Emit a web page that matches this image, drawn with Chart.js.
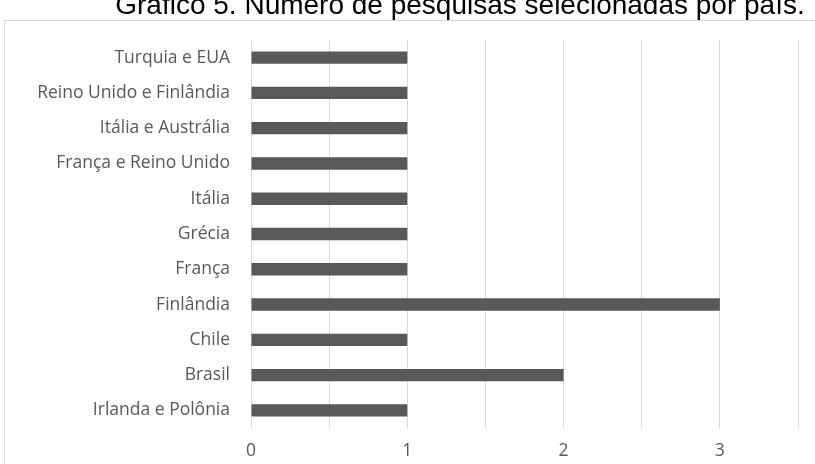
<!DOCTYPE html>
<html>
<head>
<meta charset="utf-8">
<script src="https://cdn.jsdelivr.net/npm/chart.js@4/dist/chart.umd.min.js"></script>
<style>
  html, body { margin: 0; padding: 0; background: #fff; overflow: hidden; }
  #wrap { width: 815px; height: 464px; }
</style>
</head>
<body>
<div id="wrap"><canvas id="barChart" width="815" height="464"></canvas></div>
<script>
'use strict';

// countries, top to bottom
var paises = [
    'Turquia e EUA',
    'Reino Unido e Finlândia',
    'Itália e Austrália',
    'França e Reino Unido',
    'Itália',
    'Grécia',
    'França',
    'Finlândia',
    'Chile',
    'Brasil',
    'Irlanda e Polônia'
];
var pesquisas = [1, 1, 1, 1, 1, 1, 1, 3, 1, 2, 1];
var xTicks = [0, 1, 2, 3];
var xMax = 3.5;

var tituloTexto = 'Gráfico 5. Número de pesquisas selecionadas por país.';

// white page, light frame and the title above it
var moldura = {
    id: 'moldura',
    beforeDraw: function (chart) {
        var ctx = chart.ctx;
        ctx.save();
        ctx.fillStyle = '#ffffff';
        ctx.fillRect(0, 0, chart.width, chart.height);
        ctx.strokeStyle = '#d9d9d9';
        ctx.lineWidth = 1;
        ctx.strokeRect(4.5, 20.5, 900, 600);
        ctx.fillStyle = '#000000';
        ctx.font = '28px "Liberation Sans", Arial, sans-serif';
        ctx.textAlign = 'center';
        ctx.textBaseline = 'alphabetic';
        ctx.fillText(tituloTexto, 460, 14);
        ctx.restore();
    }
};

var barChartCanvas = document.getElementById('barChart').getContext('2d');

new Chart(barChartCanvas, {
    type: 'bar',
    data: {
        labels: paises,
        datasets: [
            {
                data: pesquisas,
                backgroundColor: '#595959',
                borderWidth: 0,
                barPercentage: 0.35,
                categoryPercentage: 1
            }
        ]
    },
    options: {
        indexAxis: 'y',
        responsive: false,
        animation: false,
        devicePixelRatio: 1,
        layout: {
            padding: { top: 40, right: 17, bottom: 0, left: 0 }
        },
        plugins: {
            legend: { display: false },
            tooltip: { enabled: false }
        },
        scales: {
            x: {
                min: 0,
                max: xMax,
                afterFit: function (scale) { scale.height = 36; },
                afterBuildTicks: function (scale) {
                    var t = [];
                    for (var v = 0; v <= xMax; v += 0.5) t.push({ value: v });
                    scale.ticks = t;
                },
                ticks: {
                    autoSkip: false,
                    maxRotation: 0,
                    padding: 13,
                    color: '#595959',
                    font: { family: '"Open Sans", sans-serif', size: 17.5 },
                    callback: function (value) {
                        return xTicks.indexOf(value) >= 0 ? String(value) : '';
                    }
                },
                grid: {
                    color: '#d9d9d9',
                    lineWidth: 1,
                    drawTicks: false
                },
                border: { display: false }
            },
            y: {
                afterFit: function (scale) { scale.width = 251; },
                ticks: {
                    padding: 21,
                    color: '#595959',
                    font: { family: '"Open Sans", sans-serif', size: 17.5 }
                },
                grid: { display: false, drawTicks: false },
                border: { display: false }
            }
        }
    },
    plugins: [moldura]
});
</script>
</body>
</html>
